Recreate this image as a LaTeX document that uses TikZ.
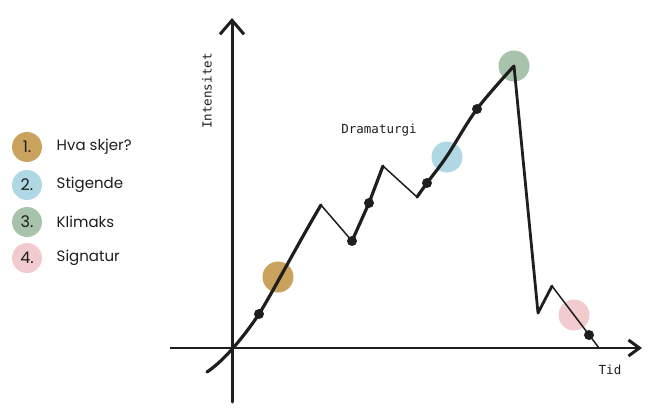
\documentclass[tikz,border=0pt]{standalone}
\usepackage{fontspec}
\usepackage{xcolor}
\usepackage{tikz}
\usetikzlibrary{arrows.meta,positioning}
\setmainfont{Poppins}
\newfontfamily\monofont{DejaVu Sans Mono}
\definecolor{DramaGold}{HTML}{C9A25E}
\definecolor{DramaBlue}{HTML}{AFD8E4}
\definecolor{DramaGreen}{HTML}{A8C3AB}
\definecolor{DramaPink}{HTML}{F1CBCE}
\definecolor{DramaInk}{HTML}{1E1E1E}
\tikzset{
  thickline/.style={draw=DramaInk,line width=3.2pt,line join=round,line cap=round},
  thinline/.style={draw=DramaInk,line width=1.5pt,line join=round,line cap=round},
  phasedot/.style={circle,fill=#1,minimum size=31pt,inner sep=0pt},
  keydot/.style={circle,fill=#1,minimum size=30pt,inner sep=0pt,
    font=\fontsize{16}{18}\selectfont,text=DramaInk},
  keytext/.style={right=11pt of #1,font=\fontsize{15}{17}\selectfont,text=DramaInk},
  markdot/.style={circle,fill=DramaInk,minimum size=10pt,inner sep=0pt},
  axislabel/.style={font=\monofont\fontsize{12.5}{14}\selectfont,text=DramaInk}
}

\begin{document}
\begin{tikzpicture}[x=1pt,y=-1pt]
  \useasboundingbox (0,0) rectangle (653,420);
  % legend
  \node[keydot=DramaGold] (k1) at (27,147) {1.};
  \node[keydot=DramaBlue] (k2) at (27,185) {2.};
  \node[keydot=DramaGreen] (k3) at (27,222) {3.};
  \node[keydot=DramaPink] (k4) at (27,258) {4.};
  \node[keytext=k1] (t1) {Hva skjer?};
  \node[keytext=k2] (t2) {Stigende};
  \node[keytext=k3] (t3) {Klimaks};
  \node[keytext=k4] (t4) {Signatur};
  % phase circles
  \node[phasedot=DramaGold] (p1) at (278,277) {};
  \node[phasedot=DramaBlue] (p2) at (447,157) {};
  \node[phasedot=DramaGreen] (p3) at (514,66) {};
  \node[phasedot=DramaPink] (p4) at (574,315) {};
  % axes
  \coordinate (ybot) at (232,402);
  \coordinate (ytop) at (232,18);
  \coordinate (xleft) at (170,348);
  \coordinate (xright) at (642,348);
  \draw[thickline,line width=3pt,-{Straight Barb[length=14pt,width=24pt,line width=3pt]}] (ybot) -- (ytop);
  \draw[thinline,line cap=butt,-{Straight Barb[length=11pt,width=16pt,line width=3pt]}] (xleft) -- (xright);
  \node[axislabel,rotate=90] (ylab) at (207,91) {Intensitet};
  \node[axislabel] (xlab) at (610,370) {Tid};
  \node[axislabel] (title) at (379,130) {Dramaturgi};
  % story line
  \draw[thickline] (207,372) .. controls (225,360) and (245,335) .. (259,314)
    .. controls (270,297) and (300,240) .. (321,205);
  \draw[thinline] (321,205) -- (352,241);
  \draw[thickline] (352,241) -- (369,203) -- (383,166);
  \draw[thinline] (383,166) -- (417,197);
  \draw[thickline] plot[smooth,tension=0.6] coordinates {(417,197) (427,183) (447,156) (477,109) (514,66)};
  \draw[thickline,line width=2.8pt] (514,66) -- (538,313) -- (552,286);
  \draw[thinline] (552,286) -- (574,315) -- (599,348);
  % marks
  \foreach \mx/\my in {259/314,352/241,369/203,427/183,477/109,589/335}
    \node[markdot] at (\mx,\my) {};
\end{tikzpicture}
\end{document}
